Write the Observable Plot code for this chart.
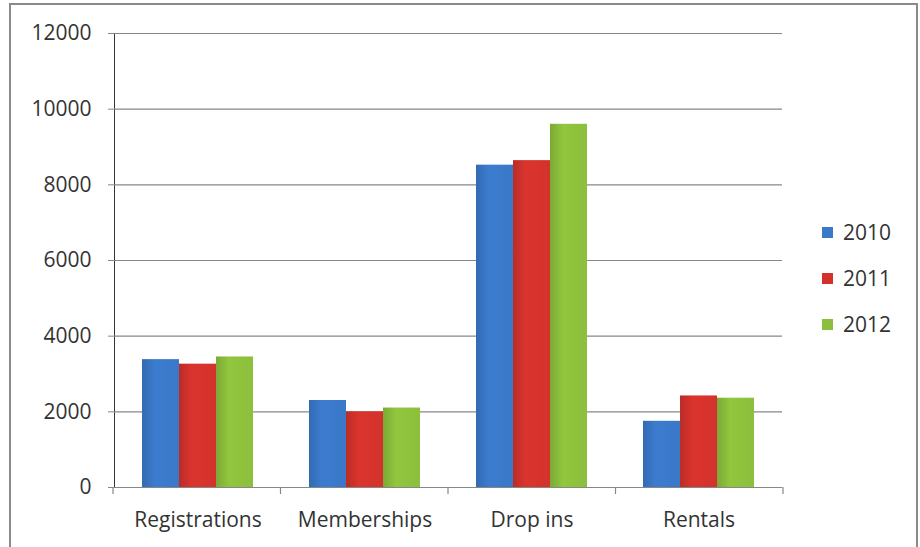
<!DOCTYPE html>
<html>
<head>
<meta charset="utf-8">
<script src="https://cdn.jsdelivr.net/npm/d3@7"></script>
<script src="https://cdn.jsdelivr.net/npm/@observablehq/plot@0.6"></script>
<style>
  body { margin: 0; background: #fff; }
  #wrap { position: relative; width: 920px; height: 547px; overflow: hidden; font-family: "Open Sans", sans-serif; }
  #frame { position: absolute; left: 9px; top: 3px; width: 909px; height: 600px; border: 2px solid #8a8a8a; box-sizing: border-box; }
  #chart { position: absolute; left: 0; top: 0; }
  #legend { position: absolute; left: 822px; top: 209px; }
  .item { display: flex; align-items: center; height: 46px; margin-top: 0; }
  .item .sw { width: 11px; height: 11px; margin-right: 10px; }
  .item span { font-size: 21px; color: #333; line-height: 1; }
</style>
</head>
<body>
<div id="wrap">
  <div id="frame"></div>
  <div id="chart"></div>
  <div id="legend"></div>
</div>
<script>
const categories = ["Registrations", "Memberships", "Drop ins", "Rentals"];
const years = ["2010", "2011", "2012"];
const values2010 = [3380, 2300, 8520, 1750];
const values2011 = [3260, 2000, 8640, 2420];
const values2012 = [3450, 2100, 9600, 2360];
const yTicks = [0, 2000, 4000, 6000, 8000, 10000, 12000];
const colors = ["#3a78c8", "#d3322c", "#8cbf3c"];

const series = [values2010, values2011, values2012];
const data = categories.flatMap((c, i) => years.map((y, j) => ({category: c, year: y, value: series[j][i]})));

const chart = Plot.plot({
  width: 920,
  height: 547,
  marginLeft: 113,
  marginRight: 137,
  marginTop: 33,
  marginBottom: 60,
  style: {fontFamily: "'Open Sans', sans-serif", fontSize: "21px", color: "#333", background: "transparent", overflow: "visible"},
  fx: {domain: categories, padding: 0, label: null, axis: "bottom", tickSize: 0, tickPadding: 25},
  x: {domain: years, paddingInner: 0, paddingOuter: 0.75, axis: null},
  y: {domain: [0, 12000], ticks: yTicks, tickSize: 6, tickPadding: 17, label: null, line: true, tickFormat: d => String(d)},
  color: {domain: years, range: colors},
  marks: [
    Plot.ruleY(yTicks.filter(d => d > 0), {stroke: "#878787", strokeWidth: 1.2}),
    Plot.barY(data, {fx: "category", x: "year", y: "value", fill: "year"}),
    Plot.ruleY([0], {stroke: "#878787", strokeWidth: 1.2})
  ]
});
document.getElementById("chart").appendChild(chart);

const svg = d3.select(chart);
// axis ticks / lines gray
svg.selectAll("g[aria-label$='tick'], g[aria-label$='tick'] path, g[aria-label$='tick'] line, g.tick line, path.domain, g[aria-label$='axis line'] line, g[aria-label$='axis line'] path")
  .attr("stroke", "#878787");

// gradients for bars
const defs = svg.insert("defs", ":first-child");
colors.forEach((c, i) => {
  const g = defs.append("linearGradient").attr("id", "grad" + i).attr("x1", "0").attr("x2", "1").attr("y1", "0").attr("y2", "0");
  const base = d3.color(c);
  g.append("stop").attr("offset", "0%").attr("stop-color", base.darker(0.35));
  g.append("stop").attr("offset", "35%").attr("stop-color", base.brighter(0.1));
  g.append("stop").attr("offset", "100%").attr("stop-color", base);
});
svg.selectAll("rect").each(function() {
  const f = this.getAttribute("fill") || (this.parentNode && this.parentNode.getAttribute("fill"));
  const idx = colors.indexOf(f);
  if (idx >= 0) this.setAttribute("fill", `url(#grad${idx})`);
});

// category boundary ticks on the baseline, from Plot's fx scale
const fxs = chart.scale("fx");
const yS = chart.scale("y");
const band = d3.scaleBand().domain(fxs.domain).range(fxs.range).paddingInner(fxs.paddingInner ?? 0).paddingOuter(fxs.paddingOuter ?? 0).align(fxs.align ?? 0.5);
const y0 = d3.scaleLinear().domain(yS.domain).range(yS.range)(0);
const bounds = categories.map(c => band(c)).concat([band(categories[categories.length - 1]) + band.bandwidth()]);
svg.append("g").selectAll("line").data(bounds).join("line")
  .attr("x1", d => d).attr("x2", d => d)
  .attr("y1", y0).attr("y2", y0 + 7)
  .attr("stroke", "#878787").attr("stroke-width", 1.2);

// legend
const legend = d3.select("#legend");
years.forEach((y, i) => {
  const it = legend.append("div").attr("class", "item");
  it.append("div").attr("class", "sw").style("background", colors[i]);
  it.append("span").text(y);
});
</script>
</body>
</html>
